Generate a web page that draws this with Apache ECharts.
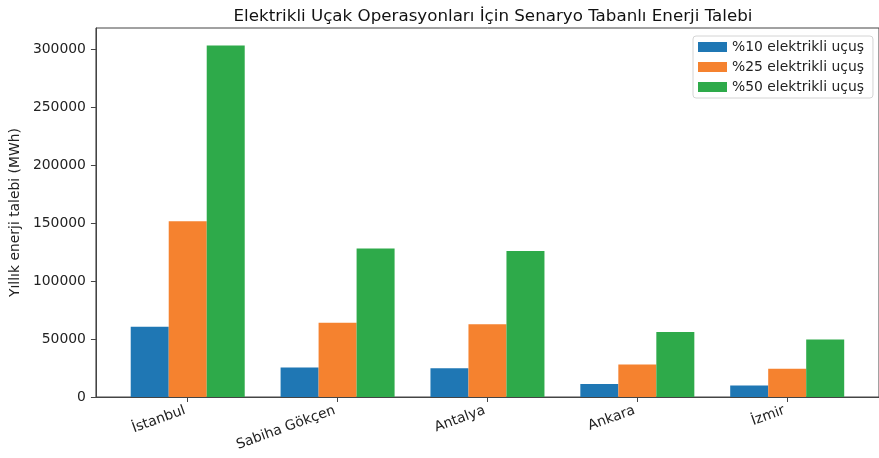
<!DOCTYPE html>
<html>
<head>
<meta charset="utf-8">
<script src="https://cdn.jsdelivr.net/npm/echarts@6/dist/echarts.min.js"></script>
<style>
  html, body { margin: 0; padding: 0; background: #fff; }
  #chart { width: 879px; height: 458px; }
</style>
</head>
<body>
<div id="chart"></div>
<script>
// veriler
const airports = ['İstanbul', 'Sabiha Gökçen', 'Antalya', 'Ankara', 'İzmir'];
const seriesNames = ['%10 elektrikli uçuş', '%25 elektrikli uçuş', '%50 elektrikli uçuş'];
const demand10 = [60600, 25500, 24800, 11200, 9900];
const demand25 = [151500, 64000, 62800, 28000, 24400];
const demand50 = [303000, 128000, 125800, 56100, 49600];
const yTicks = [0, 50000, 100000, 150000, 200000, 250000, 300000];

const colors = ['#1f77b4', '#f5822f', '#2eaa4a'];
const font = 'DejaVu Sans';
const fs = 13.9;

const chart = echarts.init(document.getElementById('chart'), null, { renderer: 'canvas' });

function toPairs(arr) {
  return arr.map(function (v, i) { return [i, v]; });
}

const allValues = demand10.concat(demand25, demand50);
const yMax = Math.max.apply(null, allValues) * 1.05;

const option = {
  animation: false,
  textStyle: { fontFamily: font },
  title: {
    text: 'Elektrikli Uçak Operasyonları İçin Senaryo Tabanlı Enerji Talebi',
    left: 488,
    textAlign: 'center',
    top: 3,
    textStyle: { fontFamily: font, fontSize: 16.7, fontWeight: 'normal', color: '#111' }
  },
  legend: {
    orient: 'vertical',
    left: 693,
    top: 36,
    data: seriesNames,
    itemWidth: 29,
    itemHeight: 10,
    itemGap: 6,
    padding: [4, 9, 4, 5],
    borderColor: '#d4d4d4',
    borderWidth: 1,
    borderRadius: 3,
    icon: 'rect',
    textStyle: { fontFamily: font, fontSize: fs, color: '#222' }
  },
  grid: {
    left: 93,
    top: 28,
    width: 790,
    height: 369,
    show: true,
    borderColor: '#444',
    borderWidth: 1
  },
  xAxis: {
    type: 'value',
    min: -0.6125,
    max: 4.6125,
    splitLine: { show: false },
    axisLine: { show: true, onZero: false, lineStyle: { color: '#444', width: 1 } },
    axisTick: { show: true, length: 5, customValues: [0, 1, 2, 3, 4], lineStyle: { color: '#444' } },
    axisLabel: {
      customValues: [0, 1, 2, 3, 4],
      rotate: 20,
      margin: 12,
      padding: [0, 3, 0, 0],
      fontSize: fs,
      color: '#222',
      fontFamily: font,
      formatter: function (v) { return airports[Math.round(v)]; }
    }
  },
  yAxis: {
    type: 'value',
    min: 0,
    max: yMax,
    interval: 50000,
    name: 'Yıllık enerji talebi (MWh)',
    nameLocation: 'middle',
    nameRotate: 90,
    nameGap: 70,
    nameTextStyle: { fontFamily: font, fontSize: fs, color: '#222' },
    splitLine: { show: false },
    axisLine: { show: true, onZero: false, lineStyle: { color: '#444', width: 1 } },
    axisTick: { show: true, length: 5, customValues: yTicks, lineStyle: { color: '#444' } },
    axisLabel: {
      margin: 10,
      fontSize: fs,
      color: '#222',
      fontFamily: font,
      customValues: yTicks,
      formatter: function (v) { return String(v); }
    }
  },
  series: [
    { name: seriesNames[0], type: 'bar', data: toPairs(demand10), barWidth: 38, barGap: '0%', itemStyle: { color: colors[0] } },
    { name: seriesNames[1], type: 'bar', data: toPairs(demand25), barWidth: 38, barGap: '0%', itemStyle: { color: colors[1] } },
    { name: seriesNames[2], type: 'bar', data: toPairs(demand50), barWidth: 38, barGap: '0%', itemStyle: { color: colors[2] } }
  ]
};

chart.setOption(option);
</script>
</body>
</html>
